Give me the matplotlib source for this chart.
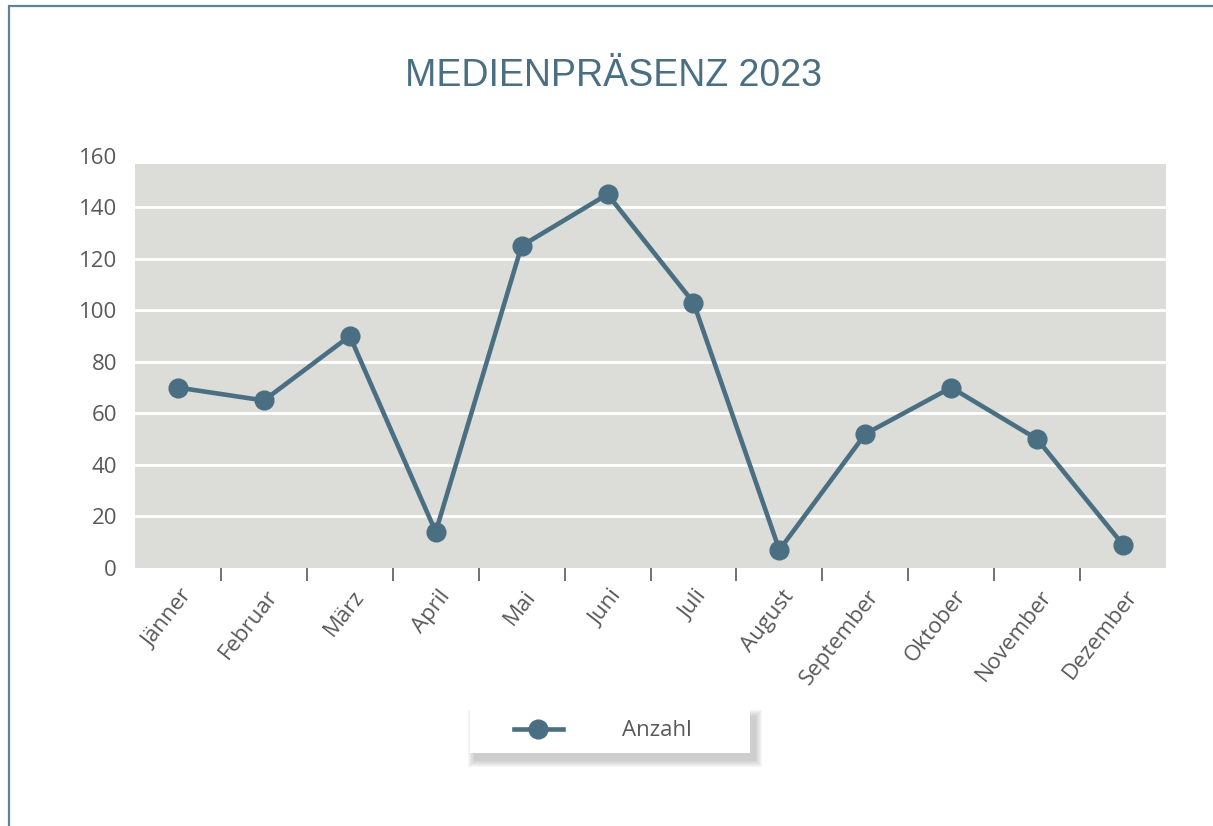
import matplotlib.pyplot as plt
from matplotlib.patches import Rectangle
from matplotlib.transforms import ScaledTranslation
import numpy as np

# Medienpräsenz pro Monat
months = ['Jänner', 'Februar', 'März', 'April', 'Mai', 'Juni',
          'Juli', 'August', 'September', 'Oktober', 'November', 'Dezember']
counts = [70, 65, 90, 14, 125, 145, 103, 7, 52, 70, 50, 9]
yticks = [0, 20, 40, 60, 80, 100, 120, 140, 160]

line_col = '#4a6f82'
text_col = '#595959'
plt.rcParams['font.family'] = ['Open Sans', 'DejaVu Sans']

W, H = 1213, 826
fig = plt.figure(figsize=(W / 100, H / 100), dpi=100)

# outer frame, cut off on right and bottom
fig.patches.append(Rectangle((9 / W, -0.1), 1.2, 1.1 - 6 / H,
                             transform=fig.transFigure, fill=False,
                             edgecolor='#5f8296', linewidth=1.6, zorder=-2))

ax = fig.add_axes([135 / W, 1 - 568 / H, 1031 / W, (568 - 155.6) / H])
ax.set_facecolor('none')
x = np.arange(len(months))
ax.set_xlim(-0.5, len(months) - 0.5)
ax.set_ylim(0, 160)

# grey plot area (stops a little below 160 like the original)
ax.axhspan(0, 156.8, color='#dcdcd8', zorder=0, linewidth=0)
for v in yticks[1:-1]:
    ax.axhline(v, color='white', linewidth=2, zorder=1)

ax.plot(x, counts, color=line_col, linewidth=3.3, marker='o', markersize=13.5,
        zorder=3, label='Anzahl')

for s in ax.spines.values():
    s.set_visible(False)

ax.set_yticks(yticks)
ax.tick_params(axis='y', length=0, pad=13, labelsize=16, labelcolor=text_col)

# tick marks between categories, labels at category centres
ax.set_xticks(np.arange(0.5, len(months) - 1, 1))
ax.set_xticklabels([])
ax.tick_params(axis='x', which='major', direction='out', length=9, width=1.3,
               color='#666666')
ax.set_xticks(x, minor=True)
ax.set_xticklabels(months, minor=True, rotation=52, ha='right', va='top',
                   rotation_mode='anchor', fontsize=16, color=text_col)
ax.tick_params(axis='x', which='minor', length=0, pad=13)
shift = ScaledTranslation(2 / 100, 0, fig.dpi_scale_trans)
for lab in ax.get_xticklabels(minor=True):
    lab.set_transform(lab.get_transform() + shift)

fig.text(0.506, 1 - 76 / H, 'MEDIENPRÄSENZ 2023', ha='center', va='center',
         fontsize=27, color=line_col, family='Liberation Sans')

# legend box with soft shadow
bx, by, bw, bh = 470 / W, 1 - 753 / H, 280 / W, 43 / H
for i in range(12, 0, -1):
    g = i * 1.2
    fig.patches.append(Rectangle((bx + (5 - g / 2) / W, by - (7 + g / 2) / H),
                                 bw + g / W, bh + g / H,
                                 transform=fig.transFigure, facecolor='#808080',
                                 edgecolor='none', alpha=0.035, zorder=-1))
fig.patches.append(Rectangle((bx, by), bw, bh, transform=fig.transFigure,
                             facecolor='white', edgecolor='none', zorder=-1))

leg = ax.legend(loc='center left', bbox_to_anchor=(514 / W, 1 - 731 / H),
                bbox_transform=fig.transFigure, frameon=False,
                fontsize=16, handlelength=2.2, handletextpad=2.65,
                borderpad=0, borderaxespad=0)
for t in leg.get_texts():
    t.set_color(text_col)

fig.savefig('out.png', dpi=100)
